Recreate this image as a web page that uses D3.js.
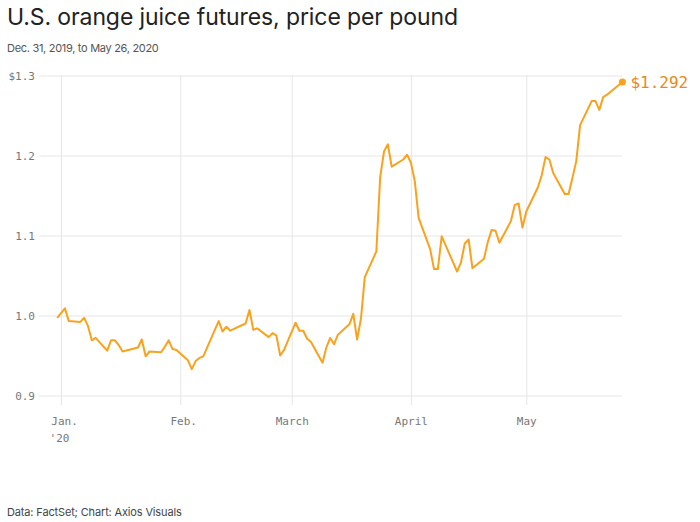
<!DOCTYPE html>
<html>
<head>
<meta charset="utf-8">
<script src="https://cdn.jsdelivr.net/npm/d3@7"></script>
<style>
  html, body { margin: 0; padding: 0; background: #fff; }
  svg { display: block; }
</style>
</head>
<body>
<svg id="chart" width="700" height="522"></svg>
<script>
const dates = ["2019-12-31",
 "2020-01-02","2020-01-03","2020-01-06","2020-01-07","2020-01-08","2020-01-09","2020-01-10",
 "2020-01-13","2020-01-14","2020-01-15","2020-01-16","2020-01-17","2020-01-21","2020-01-22",
 "2020-01-23","2020-01-24","2020-01-27","2020-01-28","2020-01-29","2020-01-30","2020-01-31",
 "2020-02-03","2020-02-04","2020-02-05","2020-02-06","2020-02-07","2020-02-10","2020-02-11",
 "2020-02-12","2020-02-13","2020-02-14","2020-02-18","2020-02-19","2020-02-20","2020-02-21",
 "2020-02-24","2020-02-25","2020-02-26","2020-02-27","2020-02-28",
 "2020-03-02","2020-03-03","2020-03-04","2020-03-05","2020-03-06","2020-03-09","2020-03-10",
 "2020-03-11","2020-03-12","2020-03-13","2020-03-16","2020-03-17","2020-03-18","2020-03-19",
 "2020-03-20","2020-03-23","2020-03-24","2020-03-25","2020-03-26","2020-03-27","2020-03-30",
 "2020-03-31",
 "2020-04-01","2020-04-02","2020-04-03","2020-04-06","2020-04-07","2020-04-08","2020-04-09",
 "2020-04-13","2020-04-14","2020-04-15","2020-04-16","2020-04-17","2020-04-20","2020-04-21",
 "2020-04-22","2020-04-23","2020-04-24","2020-04-27","2020-04-28","2020-04-29","2020-04-30",
 "2020-05-01","2020-05-04","2020-05-05","2020-05-06","2020-05-07","2020-05-08","2020-05-11",
 "2020-05-12","2020-05-13","2020-05-14","2020-05-15","2020-05-18","2020-05-19","2020-05-20",
 "2020-05-21","2020-05-22","2020-05-26"];

const prices = [0.997,
 1.009,0.993,0.992,0.997,0.987,0.969,0.972,
 0.956,0.969,0.969,0.963,0.955,0.960,0.970,
 0.949,0.955,0.954,0.961,0.969,0.958,0.957,
 0.944,0.933,0.943,0.947,0.949,0.982,0.993,
 0.980,0.986,0.981,0.990,1.007,0.982,0.984,
 0.973,0.978,0.975,0.950,0.957,
 0.991,0.981,0.981,0.971,0.967,0.941,0.960,
 0.972,0.964,0.976,0.989,1.002,0.970,0.996,
 1.048,1.080,1.173,1.205,1.214,1.186,1.195,
 1.201,
 1.191,1.168,1.122,1.083,1.058,1.058,1.099,
 1.055,1.066,1.090,1.095,1.059,1.071,1.092,
 1.107,1.106,1.091,1.118,1.138,1.140,1.110,
 1.130,1.160,1.175,1.198,1.195,1.178,1.152,
 1.152,1.172,1.193,1.238,1.268,1.268,1.257,
 1.273,1.276,1.292];

const yTicks = [0.9, 1.0, 1.1, 1.2, 1.3];
const yTickLabels = ["0.9", "1.0", "1.1", "1.2", "$1.3"];
const xTicks = ["2020-01-01", "2020-02-01", "2020-03-01", "2020-04-01", "2020-05-01"];
const xTickLabels = ["Jan.", "Feb.", "March", "April", "May"];
const xTickSubLabels = ["'20", "", "", "", ""];
const lastLabel = "$1.292";

const title = "U.S. orange juice futures, price per pound";
const subtitle = "Dec. 31, 2019, to May 26, 2020";
const footer = "Data: FactSet; Chart: Axios Visuals";

const parse = d3.utcParse("%Y-%m-%d");
const data = dates.map((d, i) => ({ date: parse(d), value: prices[i] }));

const svg = d3.select("#chart");
const mono = "'DejaVu Sans Mono', 'Liberation Mono', monospace";
const sans = "Inter, 'Noto Sans', sans-serif";
const orange = "#f9a21e";

const x = d3.scaleUtc()
  .domain([parse("2019-12-31"), parse("2020-05-26")])
  .range([57.2, 622.4]);
const y = d3.scaleLinear().domain([0.9, 1.3]).range([395.5, 75.5]);

// titles
svg.append("text").attr("x", 7).attr("y", 25)
  .attr("font-family", sans).attr("font-size", 23).attr("fill", "#222")
  .attr("letter-spacing", -0.1)
  .text(title);
svg.append("text").attr("x", 7).attr("y", 52)
  .attr("font-family", sans).attr("font-size", 11).attr("fill", "#555")
  .attr("letter-spacing", -0.3)
  .text(subtitle);
svg.append("text").attr("x", 7).attr("y", 516)
  .attr("font-family", sans).attr("font-size", 11).attr("fill", "#444")
  .attr("letter-spacing", -0.15)
  .text(footer);

// horizontal grid + y labels
const yAxis = d3.axisLeft(y).tickValues(yTicks)
  .tickSize(-(622 - 39))
  .tickFormat((d, i) => yTickLabels[i])
  .tickPadding(4);
const gy = svg.append("g").attr("transform", "translate(39,0)").call(yAxis);
gy.select(".domain").remove();
gy.selectAll(".tick line").attr("stroke", "#e6e6e6").attr("stroke-width", 1);
gy.selectAll(".tick text").attr("font-family", mono).attr("font-size", 11)
  .attr("fill", "#777");

// vertical grid + x labels
const xTickDates = xTicks.map(parse);
const xAxis = d3.axisBottom(x).tickValues(xTickDates)
  .tickSize(-(405 - 75))
  .tickFormat((d, i) => xTickLabels[i])
  .tickPadding(12);
const gx = svg.append("g").attr("transform", "translate(0,405)").call(xAxis);
gx.select(".domain").remove();
gx.selectAll(".tick line").attr("stroke", "#e6e6e6").attr("stroke-width", 1);
gx.selectAll(".tick text").attr("font-family", mono).attr("font-size", 11)
  .attr("fill", "#777")
  .attr("dx", (d, i) => xTickLabels[i].endsWith(".") ? 3 : 0);
gx.selectAll(".tick").each(function(d, i) {
  if (xTickSubLabels[i]) {
    d3.select(this).append("text")
      .attr("y", 29).attr("dy", "0.71em").attr("x", -2)
      .attr("text-anchor", "middle")
      .attr("font-family", mono).attr("font-size", 11).attr("fill", "#777")
      .text(xTickSubLabels[i]);
  }
});

// line
const line = d3.line().x(d => x(d.date)).y(d => y(d.value));
svg.append("path").datum(data)
  .attr("d", line)
  .attr("fill", "none")
  .attr("stroke", orange)
  .attr("stroke-width", 2)
  .attr("stroke-linejoin", "round");

const last = data[data.length - 1];
svg.append("circle").attr("cx", x(last.date)).attr("cy", y(last.value))
  .attr("r", 3.5).attr("fill", orange);
svg.append("text").attr("x", x(last.date) + 8).attr("y", y(last.value))
  .attr("dy", "0.35em")
  .attr("font-family", mono).attr("font-size", 16).attr("fill", "#e8891c")
  .text(lastLabel);
</script>
</body>
</html>
